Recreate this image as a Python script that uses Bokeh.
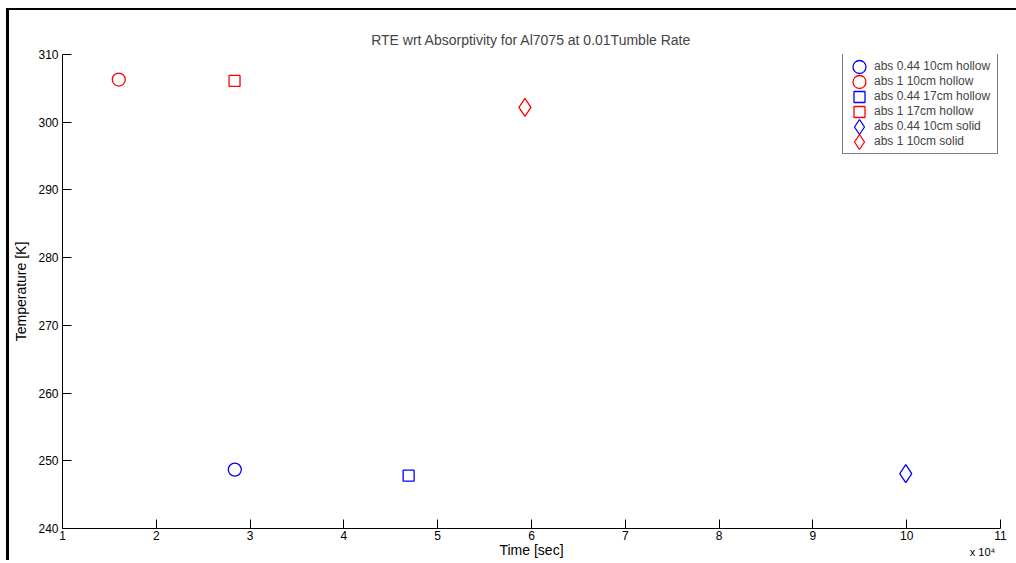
from bokeh.plotting import figure
from bokeh.embed import file_html
from bokeh.resources import INLINE
from bokeh.models import Legend, LegendItem, FixedTicker, LinearAxis, Range1d

# ---- data ----
series_names = ["abs 0.44 10cm hollow", "abs 1 10cm hollow", "abs 0.44 17cm hollow",
                "abs 1 17cm hollow", "abs 0.44 10cm solid", "abs 1 10cm solid"]
times = [28370, 16000, 46900, 28340, 99900, 59300]          # seconds
temps = [248.7, 306.3, 247.8, 306.1, 248.1, 302.2]           # K
markers = ["circle", "circle", "square", "square", "diamond", "diamond"]
colors = ["#0000ff", "#ff0000", "#0000ff", "#ff0000", "#0000ff", "#ff0000"]
sizes = [13, 13, 11, 11, 18, 18]
legend_sizes = [13, 13, 11, 11, 15, 15]

x_ticks = [10000 * k for k in range(1, 12)]
x_tick_labels = [str(k) for k in range(1, 12)]
y_ticks = list(range(240, 320, 10))
x_multiplier = "x 10\u2074"

FONT = "Liberation Sans"
FW, FH = 938, 474

p = figure(frame_width=FW, frame_height=FH,
           x_range=(10000, 110000), y_range=(240, 310),
           output_backend="svg", toolbar_location=None,
           min_border_left=53, min_border_top=44, min_border_right=16, min_border_bottom=32,
           title="RTE wrt Absorptivity for Al7075 at 0.01Tumble Rate")
p.styles = {"border-top": "2px solid black", "border-left": "3px solid black",
            "margin-left": "6px", "margin-top": "8px"}

p.title.align = "center"
p.title.text_font = FONT
p.title.text_font_style = "normal"
p.title.text_font_size = "14px"
p.title.standoff = 14
p.outline_line_color = None
p.xgrid.visible = False
p.ygrid.visible = False
p.background_fill_color = "white"
p.border_fill_color = "white"

for ax in (p.xaxis[0], p.yaxis[0]):
    ax.major_tick_in = 9
    ax.major_tick_out = 0
    ax.minor_tick_in = 0
    ax.minor_tick_out = 0
    ax.axis_line_color = "black"
    ax.major_tick_line_color = "black"
    ax.major_label_text_font = FONT
    ax.major_label_text_font_size = "12px"
    ax.major_label_text_color = "black"
    ax.axis_label_text_font = FONT
    ax.axis_label_text_font_size = "14px"
    ax.axis_label_text_font_style = "normal"
    ax.axis_label_text_color = "black"

p.xaxis.ticker = FixedTicker(ticks=x_ticks)
p.xaxis.major_label_overrides = {t: l for t, l in zip(x_ticks, x_tick_labels)}
p.xaxis.major_label_standoff = 2
p.xaxis.axis_label = "Time [sec]"
p.xaxis.axis_label_standoff = -1

p.yaxis.ticker = FixedTicker(ticks=y_ticks)
p.yaxis.major_label_standoff = 4
p.yaxis.axis_label = "Temperature [K]"
p.yaxis.axis_label_standoff = 6

# data markers
for t, T, m, c, s in zip(times, temps, markers, colors, sizes):
    p.scatter([t], [T], marker=m, size=s, fill_color=None, line_color=c, line_width=1.3)

# frame-pixel ranges for placing the legend markers and the multiplier text
p.extra_x_ranges["fx"] = Range1d(0, FW)
p.extra_y_ranges["fy"] = Range1d(0, FH)

# "x 10^4" multiplier as the single tick label of a bare second bottom axis
mult_axis = LinearAxis(x_range_name="fx", ticker=FixedTicker(ticks=[920]),
                       major_label_overrides={920: x_multiplier})
mult_axis.axis_line_color = None
mult_axis.major_tick_line_color = None
mult_axis.minor_tick_line_color = None
mult_axis.major_tick_in = 0
mult_axis.major_tick_out = 0
mult_axis.major_label_standoff = -15
mult_axis.major_label_text_font = FONT
mult_axis.major_label_text_font_size = "11px"
mult_axis.major_label_text_color = "black"
p.add_layout(mult_axis, "below")

# legend (labels from a real Legend, markers drawn in frame-pixel space under it)
LEG_LEFT = 780          # frame px from left
LEG_TOP = FH + 0        # frame px from bottom
PAD, ROW, GW = 5, 15, 24
n = len(series_names)
leg_h = 2 * PAD + n * ROW

items = []
for name, m in zip(series_names, markers):
    dummy = p.scatter([], [], marker=m, size=1, fill_color=None, line_color=None)
    items.append(LegendItem(label=name, renderers=[dummy]))

legend = Legend(items=items, location=(LEG_LEFT, LEG_TOP - leg_h))
legend.glyph_width = GW
legend.glyph_height = ROW
legend.label_height = ROW
legend.label_width = 118
legend.spacing = 0
legend.padding = PAD
legend.margin = 0
legend.label_standoff = 2
legend.label_text_font = FONT
legend.label_text_font_size = "12px"
legend.label_text_baseline = "middle"
legend.border_line_color = "black"
legend.border_line_width = 1
legend.background_fill_alpha = 0
p.add_layout(legend)

lx = [LEG_LEFT + PAD + GW / 2] * n
ly = [LEG_TOP - PAD - ROW / 2 - ROW * i for i in range(n)]
p.scatter(lx, ly, marker=markers, size=legend_sizes, fill_color=None, line_color=colors,
          line_width=1.3, x_range_name="fx", y_range_name="fy")

open("out.html", "w").write(file_html(p, INLINE))
